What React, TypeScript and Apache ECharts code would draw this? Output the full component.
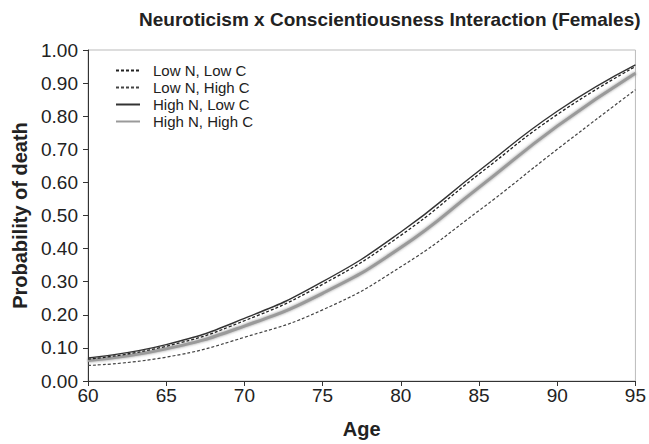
import React, { useEffect, useRef } from "react";
import * as echarts from "echarts";

const ages = [60, 65, 70, 75, 80, 85, 90, 95];
const lowNLowC = [0.066, 0.105, 0.182, 0.292, 0.44, 0.625, 0.805, 0.95];
const lowNHighC = [0.047, 0.072, 0.132, 0.215, 0.345, 0.515, 0.7, 0.88];
const highNLowC = [0.07, 0.11, 0.189, 0.3, 0.45, 0.635, 0.815, 0.955];
const highNHighC = [0.062, 0.097, 0.166, 0.265, 0.403, 0.585, 0.77, 0.93];
const seriesNames = ["Low N, Low C", "Low N, High C", "High N, Low C", "High N, High C"];

const FONT = "'Liberation Sans', Arial, sans-serif";

const pairs = (ys: number[]) => ages.map((a, i) => [a, ys[i]]);

export default function App() {
  const ref = useRef<HTMLDivElement>(null);
  useEffect(() => {
    if (!ref.current) return;
    const chart = echarts.init(ref.current, null, { renderer: "svg" });
    chart.setOption({
      animation: false,
      backgroundColor: "#fff",
      title: {
        text: "Neuroticism x Conscientiousness Interaction (Females)",
        left: 134,
        top: 5,
        textStyle: { fontFamily: FONT, fontSize: 19, fontWeight: "bold", color: "#222" },
      },
      legend: {
        orient: "vertical",
        left: 115,
        top: 62,
        padding: 0,
        itemWidth: 24,
        itemHeight: 10,
        itemGap: 0,
        data: seriesNames,
        itemStyle: { opacity: 0 },
        textStyle: {
          fontFamily: FONT,
          fontSize: 15,
          lineHeight: 17,
          color: "#222",
          padding: [0, 0, 0, 8],
        },
      },
      grid: {
        left: 88,
        right: 10,
        top: 50,
        bottom: 59,
        show: true,
        borderColor: "#bbb",
        borderWidth: 1,
      },
      xAxis: {
        type: "value",
        min: 60,
        max: 95,
        interval: 5,
        name: "Age",
        nameLocation: "middle",
        nameGap: 38,
        nameTextStyle: { fontFamily: FONT, fontSize: 20, fontWeight: "bold", color: "#222" },
        axisLine: { lineStyle: { color: "#333", width: 1 } },
        axisTick: { show: true, length: 5, lineStyle: { color: "#333" } },
        axisLabel: { fontFamily: FONT, fontSize: 19, color: "#222", margin: 5 },
        splitLine: { show: false },
      },
      yAxis: {
        type: "value",
        min: 0,
        max: 1,
        interval: 0.1,
        name: "Probability of death",
        nameLocation: "middle",
        nameGap: 58,
        nameTextStyle: { fontFamily: FONT, fontSize: 20, fontWeight: "bold", color: "#222" },
        axisLine: { show: true, lineStyle: { color: "#333", width: 1 } },
        axisTick: { show: true, length: 5, lineStyle: { color: "#333" } },
        axisLabel: {
          fontFamily: FONT,
          fontSize: 19,
          color: "#222",
          margin: 10,
          formatter: (v: number) => v.toFixed(2),
        },
        splitLine: { show: false },
      },
      series: [
        {
          name: seriesNames[0],
          type: "line",
          data: pairs(lowNLowC),
          smooth: true,
          symbol: "none",
          z: 4,
          lineStyle: { color: "#222", width: 1.3, type: [3, 2] },
          itemStyle: { color: "#222" },
        },
        {
          name: seriesNames[1],
          type: "line",
          data: pairs(lowNHighC),
          smooth: true,
          symbol: "none",
          z: 3,
          lineStyle: { color: "#444", width: 1.2, type: [3, 2] },
          itemStyle: { color: "#444" },
        },
        {
          name: seriesNames[2],
          type: "line",
          data: pairs(highNLowC),
          smooth: true,
          symbol: "none",
          z: 3,
          lineStyle: { color: "#333", width: 1.4, type: "solid" },
          itemStyle: { color: "#333" },
        },
        {
          name: seriesNames[3],
          type: "line",
          data: pairs(highNHighC),
          smooth: true,
          symbol: "none",
          z: 2,
          lineStyle: {
            color: "#9a9a9a",
            width: 3,
            type: "solid",
            shadowBlur: 3,
            shadowColor: "rgba(120,120,120,0.8)",
          },
          itemStyle: { color: "#9a9a9a" },
        },
      ],
    });
    return () => chart.dispose();
  }, []);
  return (
    <div
      ref={ref}
      style={{ position: "fixed", left: 0, top: 0, width: 649, height: 444 }}
    />
  );
}
